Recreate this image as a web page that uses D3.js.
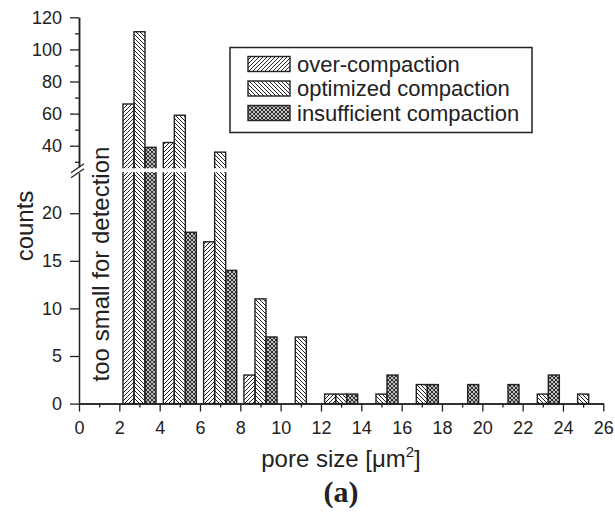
<!DOCTYPE html>
<html>
<head>
<meta charset="utf-8">
<script src="https://cdn.jsdelivr.net/npm/d3@7"></script>
<style>
  body { margin: 0; background: #fff; }
  svg text { font-family: "Liberation Sans", Arial, sans-serif; fill: #222; }
</style>
</head>
<body>
<svg class="chart" width="615" height="518"></svg>
<script>
'use strict'

// data
const bins = [3, 5, 7, 9, 11, 13, 15, 17, 19, 21, 23, 25];
const overCompaction = [66, 42, 17, 3, 0, 1, 0, 0, 0, 0, 0, 0];
const optimizedCompaction = [111, 59, 36, 11, 7, 1, 1, 2, 0, 0, 1, 1];
const insufficientCompaction = [39, 18, 14, 7, 0, 1, 3, 2, 2, 2, 3, 0];
const seriesNames = ['over-compaction', 'optimized compaction', 'insufficient compaction'];

const xTickLabels = [0, 2, 4, 6, 8, 10, 12, 14, 16, 18, 20, 22, 24, 26];
const xMinorTicks = [1, 3, 5, 7, 9, 11, 13, 15, 17, 19, 21, 23, 25];
const yLowTicks = [0, 5, 10, 15, 20];
const yLowMinor = [1, 2, 3, 4, 6, 7, 8, 9, 11, 12, 13, 14, 16, 17, 18, 19, 21, 22, 23, 24];
const yHighTicks = [40, 60, 80, 100, 120];
const yHighMinor = [30, 50, 70, 90, 110];

const svg = d3.select('.chart');
const ink = '#222';

// scales
const x = d3.scaleLinear().domain([0, 26]).range([79, 603.3]);
const yLow = d3.scaleLinear().domain([0, 24.3]).range([403.6, 172.3]);
const yHigh = d3.scaleLinear().domain([26, 120]).range([168.2, 17.3]);
const xSub = d3.scaleBand().domain(seriesNames).range([-0.82, 0.82]);

// hatch patterns
const defs = svg.append('defs');
function hatch(id, d, w) {
    defs.append('pattern')
        .attr('id', id)
        .attr('patternUnits', 'userSpaceOnUse')
        .attr('width', 4).attr('height', 4)
        .append('path')
        .attr('d', d)
        .attr('stroke', ink)
        .attr('stroke-width', w)
        .attr('fill', 'none');
}
hatch('p0', 'M0,4 L4,0 M-1,1 L1,-1 M3,5 L5,3', 1);
hatch('p1', 'M0,0 L4,4 M-1,3 L1,5 M3,-1 L5,1', 1);
hatch('p2', 'M0,4 L4,0 M-1,1 L1,-1 M3,5 L5,3 M0,0 L4,4 M-1,3 L1,5 M3,-1 L5,1', 1.1);

defs.append('clipPath').attr('id', 'clipLow')
    .append('rect').attr('x', 0).attr('y', yLow(24.3)).attr('width', 615).attr('height', 300);
defs.append('clipPath').attr('id', 'clipHigh')
    .append('rect').attr('x', 0).attr('y', 0).attr('width', 615).attr('height', yHigh(26));

const rows = [];
[overCompaction, optimizedCompaction, insufficientCompaction].forEach((vals, s) => {
    vals.forEach((v, i) => {
        if (v > 0) rows.push({ bin: bins[i], v: v, s: s });
    });
});
const barW = x(xSub.bandwidth()) - x(0);
const barX = d => x(d.bin + xSub(seriesNames[d.s]));

// lower panel
svg.append('g').attr('clip-path', 'url(#clipLow)')
    .selectAll('rect').data(rows).join('rect')
    .attr('x', barX)
    .attr('width', barW)
    .attr('y', d => yLow(Math.min(d.v, 25)))
    .attr('height', d => yLow(0) - yLow(Math.min(d.v, 25)))
    .attr('fill', d => `url(#p${d.s})`)
    .attr('stroke', ink).attr('stroke-width', 1.4);

// upper panel
svg.append('g').attr('clip-path', 'url(#clipHigh)')
    .selectAll('rect').data(rows.filter(d => d.v > 26)).join('rect')
    .attr('x', barX)
    .attr('width', barW)
    .attr('y', d => yHigh(d.v))
    .attr('height', d => yHigh(24) - yHigh(d.v))
    .attr('fill', d => `url(#p${d.s})`)
    .attr('stroke', ink).attr('stroke-width', 1.4);

// axes
function styleAxis(g) {
    g.select('.domain').attr('stroke', ink).attr('stroke-width', 1.5);
    g.selectAll('.tick line').attr('stroke', ink).attr('stroke-width', 1.3);
    g.selectAll('.tick text').style('font-size', '18px').attr('fill', ink);
}

svg.append('g')
    .attr('transform', `translate(0, ${yLow(0)})`)
    .call(d3.axisBottom(x).tickValues(xMinorTicks).tickSize(4).tickFormat('').tickSizeOuter(0))
    .call(styleAxis);
svg.append('g')
    .attr('transform', `translate(0, ${yLow(0)})`)
    .call(d3.axisBottom(x).tickValues(xTickLabels).tickSize(8).tickPadding(10).tickSizeOuter(0))
    .call(styleAxis);

svg.append('g')
    .attr('transform', `translate(${x(0)}, 0)`)
    .call(d3.axisLeft(yLow).tickValues(yLowMinor).tickSize(4).tickFormat('').tickSizeOuter(0))
    .call(d3.axisLeft(yLow).tickValues(yLowTicks).tickSize(9).tickPadding(8).tickSizeOuter(0))
    .call(styleAxis);
svg.append('g')
    .attr('transform', `translate(${x(0)}, 0)`)
    .call(d3.axisLeft(yHigh).tickValues(yHighMinor).tickSize(4).tickFormat('').tickSizeOuter(0))
    .call(styleAxis);
svg.append('g')
    .attr('transform', `translate(${x(0)}, 0)`)
    .call(d3.axisLeft(yHigh).tickValues(yHighTicks).tickSize(9).tickPadding(8).tickSizeOuter(0))
    .call(styleAxis);

// axis break
const by = (yHigh(26) + yLow(24.3)) / 2;
svg.append('rect').attr('x', x(0) - 2).attr('y', by - 3).attr('width', 4).attr('height', 6).attr('fill', '#fff');
[-2.5, 2.5].forEach(o => {
    svg.append('line')
        .attr('x1', x(0) - 8).attr('y1', by + o + 5)
        .attr('x2', x(0) + 5).attr('y2', by + o - 4)
        .attr('stroke', ink).attr('stroke-width', 1.3);
});

// axis titles
svg.append('text')
    .attr('transform', 'translate(33, 226) rotate(-90)')
    .attr('text-anchor', 'middle')
    .style('font-size', '24px')
    .text('counts');

svg.append('text')
    .attr('transform', 'translate(109, 264) rotate(-90)')
    .attr('text-anchor', 'middle')
    .style('font-size', '24px')
    .text('too small for detection');

const xt = svg.append('text')
    .attr('x', 341).attr('y', 467)
    .attr('text-anchor', 'middle')
    .style('font-size', '24px');
xt.append('tspan').text('pore size [\u03bcm');
xt.append('tspan').attr('dy', -10).style('font-size', '15px').text('2');
xt.append('tspan').attr('dy', 10).text(']');

svg.append('text')
    .attr('x', 341).attr('y', 502)
    .attr('text-anchor', 'middle')
    .style('font-family', '"Liberation Serif", "Times New Roman", serif')
    .style('font-weight', 'bold')
    .style('font-size', '30px')
    .text('(a)');

// legend
const legend = svg.append('g');
legend.append('rect')
    .attr('x', 230).attr('y', 47.5).attr('width', 302).attr('height', 85)
    .attr('fill', '#fff').attr('stroke', ink).attr('stroke-width', 1.5);
seriesNames.forEach((name, s) => {
    const ly = 64 + s * 24.5;
    legend.append('rect')
        .attr('x', 248).attr('y', ly - 7.5).attr('width', 42).attr('height', 15)
        .attr('fill', `url(#p${s})`).attr('stroke', ink).attr('stroke-width', 1.4);
    legend.append('text')
        .attr('x', 297).attr('y', ly + 7.5)
        .style('font-size', '22px')
        .text(name);
});
</script>
</body>
</html>
